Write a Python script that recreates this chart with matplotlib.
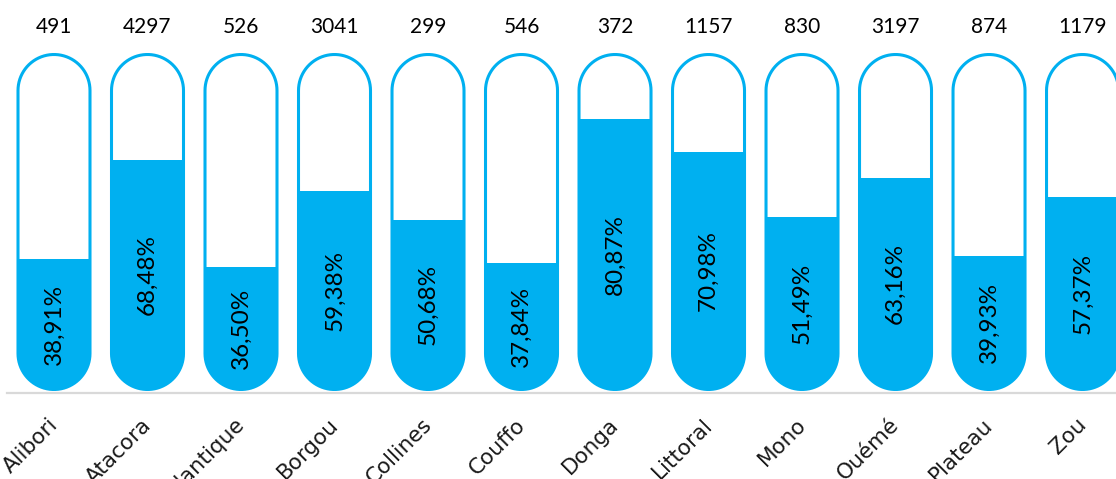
import numpy as np
import matplotlib
matplotlib.use("Agg")
import matplotlib.pyplot as plt
from matplotlib.path import Path
from matplotlib.patches import PathPatch

# data
regions = ['Alibori', 'Atacora', 'Atlantique', 'Borgou', 'Collines', 'Couffo',
           'Donga', 'Littoral', 'Mono', 'Ouémé', 'Plateau', 'Zou']
counts = [491, 4297, 526, 3041, 299, 546, 372, 1157, 830, 3197, 874, 1179]
percents = [38.91, 68.48, 36.50, 59.38, 50.68, 37.84, 80.87, 70.98, 51.49, 63.16, 39.93, 57.37]

blue = '#00B0F0'

fig = plt.figure(figsize=(11.16, 4.79), dpi=100)
ax = fig.add_axes([0, 0, 1, 1])
ax.set_xlim(-0.5775, 11.358)
ax.set_ylim(-0.2672, 1.1627)
ax.axis('off')

hw = 0.385    # half width of a capsule (x units)
ry = 0.1075   # radius of the rounded ends (y units)


def capsule(cx):
    t_top = np.linspace(0, np.pi, 40)
    t_bot = np.linspace(np.pi, 2 * np.pi, 40)
    xs = np.concatenate([cx + hw * np.cos(t_top), cx + hw * np.cos(t_bot)])
    ys = np.concatenate([1 - ry + ry * np.sin(t_top), ry + ry * np.sin(t_bot)])
    verts = np.column_stack([xs, ys])
    verts = np.vstack([verts, verts[:1]])
    codes = [Path.MOVETO] + [Path.LINETO] * (len(verts) - 2) + [Path.CLOSEPOLY]
    return Path(verts, codes)


x = np.arange(len(regions))
ax.axhline(-0.009, xmin=7 / 1116, xmax=1, color='#D9D9D9', lw=1.6, zorder=0)

for i in x:
    shell = PathPatch(capsule(i), facecolor='white', edgecolor=blue, lw=2.2, zorder=1)
    ax.add_patch(shell)
    frac = percents[i] / 100
    bar = ax.bar(i, frac, width=2 * hw, color=blue, zorder=2)[0]
    bar.set_clip_path(shell)
    ax.text(i, frac / 2, f"{percents[i]:.2f}%".replace('.', ','), rotation=90,
            ha='center', va='center', fontsize=17.5, family='Lato', color='black', zorder=3)
    ax.text(i, 1.082, str(counts[i]), ha='center', va='center',
            fontsize=15, family='Lato', color='black')
    ax.text(i + 0.053, -0.109, regions[i], rotation=45, rotation_mode='anchor',
            ha='right', va='baseline', fontsize=15.5, family='DejaVu Sans', color='#1a1a1a')

fig.savefig('out.png', dpi=100)
